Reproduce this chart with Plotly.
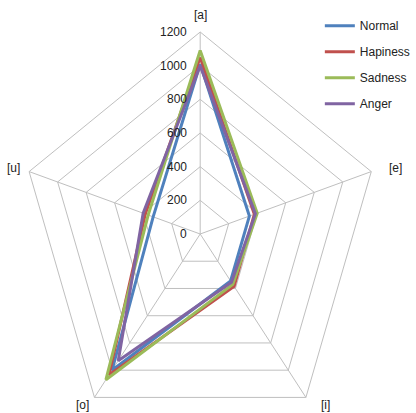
import numpy as np
import plotly.graph_objects as go

# Vowel formant-style radar data per emotion
categories = ["[a]", "[e]", "[i]", "[o]", "[u]"]
normal = [1010, 345, 345, 1000, 330]
hapiness = [1050, 380, 385, 1035, 385]
sadness = [1090, 400, 370, 1070, 365]
anger = [1000, 387, 355, 930, 400]
tick_values = [0, 200, 400, 600, 800, 1000, 1200]

series = [
    ("Normal", normal, "#4F81BD"),
    ("Hapiness", hapiness, "#C0504D"),
    ("Sadness", sadness, "#9BBB59"),
    ("Anger", anger, "#8064A2"),
]

n = len(categories)
theta = np.deg2rad(np.arange(n) * 360.0 / n)  # clockwise from top
sin_t, cos_t = np.sin(theta), np.cos(theta)
r_max = tick_values[-1]


def to_xy(values):
    v = np.asarray(values, dtype=float)
    x = v * sin_t
    y = v * cos_t
    return np.append(x, x[0]), np.append(y, y[0])


fig = go.Figure()
grid_color = "#BFBFBF"

# pentagon rings
for t in tick_values[1:]:
    gx, gy = to_xy([t] * n)
    fig.add_trace(go.Scatter(x=gx, y=gy, mode="lines", line=dict(color=grid_color, width=1),
                             hoverinfo="skip", showlegend=False))
# spokes
sx, sy = [], []
for k in range(n):
    sx += [0, r_max * sin_t[k], None]
    sy += [0, r_max * cos_t[k], None]
fig.add_trace(go.Scatter(x=sx, y=sy, mode="lines", line=dict(color=grid_color, width=1),
                         hoverinfo="skip", showlegend=False))

# data series
for name, vals, color in series:
    px_, py_ = to_xy(vals)
    fig.add_trace(go.Scatter(x=px_, y=py_, mode="lines", name=name, legendgroup=name,
                             line=dict(color=color, width=3)))

font_family = "Liberation Sans, Arial, sans-serif"
annotations = []
# radial tick labels along the top spoke
for t in tick_values:
    annotations.append(dict(x=0, y=t, text=str(t), showarrow=False, xanchor="right",
                            yanchor="middle", xshift=-11,
                            font=dict(size=12, color="#222222", family=font_family)))
# category labels at the outer vertices
label_shift = [(0, 17), (24, 4), (20, -8), (-12, -8), (-16, 4)]
for k, lab in enumerate(categories):
    dx, dy = label_shift[k]
    annotations.append(dict(x=r_max * sin_t[k], y=r_max * cos_t[k], text=lab, showarrow=False,
                            xanchor="center", yanchor="middle", xshift=dx, yshift=dy,
                            font=dict(size=12, color="#222222", family=font_family)))

fig.update_layout(
    width=416, height=413,
    margin=dict(l=0, r=0, t=0, b=0),
    paper_bgcolor="white", plot_bgcolor="white",
    xaxis=dict(visible=False, range=[-1335.5, 1272.9], fixedrange=True),
    yaxis=dict(visible=False, range=[-1063.4, 1390.1], fixedrange=True),
    annotations=annotations,
    showlegend=True,
    legend=dict(x=0.818, y=0.973, xanchor="left", yanchor="top", bgcolor="rgba(0,0,0,0)",
                tracegroupgap=7, font=dict(size=12, color="#222222", family=font_family),
                itemwidth=30),
)

fig.write_html("out.html")
